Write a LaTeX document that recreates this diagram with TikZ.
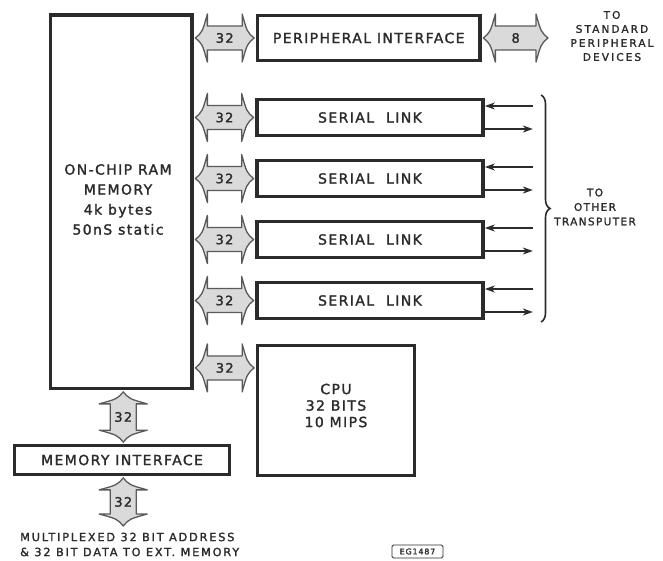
\documentclass[tikz,border=0pt]{standalone}
\usepackage{fontspec}
\setmainfont{DejaVu Sans}[LetterSpace=10, FakeBold=1.6]
\usetikzlibrary{calc,decorations.pathreplacing,arrows.meta}
\definecolor{ink}{HTML}{2B2B2B}
\definecolor{fatfill}{HTML}{DADADA}
\definecolor{fatline}{HTML}{5A5A5A}
\tikzset{
  box/.style={draw=ink, line width=3.7pt, rectangle, inner sep=0pt, text=ink,
    font=\fontsize{14}{16}\selectfont},
  fat/.style={draw=fatline, fill=fatfill, line width=1.3pt, line join=round},
  fatlabel/.style={text=ink, font=\fontsize{13}{15}\selectfont, inner sep=0pt},
  sig/.style={draw=ink, line width=2pt, -{Stealth[length=10pt,width=7pt]}},
  note/.style={text=ink, align=center, inner sep=0pt},
  bigtext/.style={text=ink, align=center, inner sep=0pt},
}
\newcommand\hfat[4]{%
  \path[fat] let \p1=#1, \p2=#2 in
    (\x1,\y1) .. controls (\x1+7pt,\y1+6pt) .. (\x1+12pt,\y1+24pt)
    -- (\x1+12pt,\y1+12pt) -- (\x2-12pt,\y2+12pt) -- (\x2-12pt,\y2+24pt)
    .. controls (\x2-7pt,\y2+6pt) .. (\x2,\y2)
    .. controls (\x2-7pt,\y2-6pt) .. (\x2-12pt,\y2-24pt)
    -- (\x2-12pt,\y2-12pt) -- (\x1+12pt,\y1-12pt) -- (\x1+12pt,\y1-24pt)
    .. controls (\x1+7pt,\y1-6pt) .. cycle;
  \node[fatlabel] (#4) at ($#1!0.5!#2$) {#3};
}
\newcommand\vfat[4]{%
  \path[fat] let \p1=#1, \p2=#2 in
    (\x1,\y1) .. controls (\x1+6pt,\y1-7pt) .. (\x1+24pt,\y1-12pt)
    -- (\x1+13pt,\y1-12pt) -- (\x2+13pt,\y2+12pt) -- (\x2+24pt,\y2+12pt)
    .. controls (\x2+6pt,\y2+7pt) .. (\x2,\y2)
    .. controls (\x2-6pt,\y2+7pt) .. (\x2-24pt,\y2+12pt)
    -- (\x2-13pt,\y2+12pt) -- (\x1-13pt,\y1-12pt) -- (\x1-24pt,\y1-12pt)
    .. controls (\x1-6pt,\y1-7pt) .. cycle;
  \node[fatlabel] (#4) at ($#1!0.5!#2$) {#3};
}
\begin{document}
\begin{tikzpicture}[x=1pt,y=-1pt]
\useasboundingbox[fill=white] (0,0) rectangle (663,560);
% boxes
\node[box, minimum width=141.5pt, minimum height=373.5pt] (ram) at (121.25,201.75) {};
\node[bigtext, font=\fontsize{14}{20}\selectfont] (ramtxt) at (118,199.5) {ON-CHIP RAM\\MEMORY\\4k bytes\\50nS static};
\node[box, minimum width=222.5pt, minimum height=45pt] (pi) at (368.75,38) {PERIPHERAL INTERFACE};
\node[box, minimum width=226pt, minimum height=36pt] (sl1) at (370,117.5) {SERIAL\hspace{12pt}LINK};
\node[box, minimum width=226pt, minimum height=36pt] (sl2) at (370,178.5) {SERIAL\hspace{12pt}LINK};
\node[box, minimum width=226pt, minimum height=36pt] (sl3) at (370,239.5) {SERIAL\hspace{12pt}LINK};
\node[box, minimum width=226pt, minimum height=36pt] (sl4) at (370,300.5) {SERIAL\hspace{12pt}LINK};
\node[box, minimum width=157pt, minimum height=130pt] (cpu) at (336,410.5) {};
\node[bigtext, font=\fontsize{14}{16.5}\selectfont] (cputxt) at ($(cpu.center)+(0,-5)$) {CPU\\32 BITS\\10 MIPS};
\node[box, minimum width=215pt, minimum height=29pt] (mi) at (122,460) {MEMORY INTERFACE};
% free ends
\coordinate (pdev) at (548,38);
\coordinate (cpuin) at ($(cpu.north west)+(-1.5,24.25)$);
\coordinate (ext) at (123.25,526);
% fat arrows
\hfat{($(ram.east|-pi.west)+(1.5,0)$)}{($(pi.west)+(-1.5,0)$)}{32}{b0}
\hfat{($(pi.east)+(1.5,0)$)}{(pdev)}{8}{b8}
\foreach \i in {1,2,3,4}{
  \hfat{($(ram.east|-sl\i.west)+(1.5,0)$)}{($(sl\i.west)+(-1.5,0)$)}{32}{bs\i}
}
\hfat{($(ram.east|-cpuin)+(1.5,0)$)}{(cpuin)}{32}{bc}
\vfat{($(ram.south)+(2,1.5)$)}{($(mi.north)+(1.25,-1.5)$)}{32}{bm}
\vfat{($(mi.south)+(1.25,1.5)$)}{(ext)}{32}{be}
% serial signals
\foreach \i in {1,2,3,4}{
  \coordinate (li\i) at ($(sl\i.east)+(48,-11.5)$);
  \coordinate (lo\i) at ($(sl\i.east)+(48,11.5)$);
  \draw[sig] (li\i) -- (li\i -| sl\i.east);
  \draw[sig] (lo\i -| sl\i.east) -- (lo\i);
}
% brace
\coordinate (bt) at (541,95);
\coordinate (bb) at (541,322);
\draw[ink, line width=1.6pt, decorate, decoration={brace, amplitude=9pt}] (bt) -- (bb);
% notes
\node[note, font=\fontsize{10.5}{14}\selectfont\addfontfeatures{LetterSpace=20}] (std) at (612,36) {TO\\STANDARD\\PERIPHERAL\\DEVICES};
\node[note, font=\fontsize{10.5}{14.5}\selectfont\addfontfeatures{LetterSpace=13}] (oth) at (595,207) {TO\\OTHER\\TRANSPUTER};
\node[note, font=\fontsize{11.3}{15}\selectfont\addfontfeatures{LetterSpace=16}, align=left, anchor=west] (mux) at (20,544.5) {MULTIPLEXED 32 BIT ADDRESS\\\& 32 BIT DATA TO EXT. MEMORY};
\node[draw=ink, line width=0.9pt, rounded corners=1.5pt, text=ink, font=\fontsize{8}{9}\selectfont, minimum width=51pt, minimum height=13pt, inner sep=0pt] (eg) at (417.5,551.5) {EG1487};
\end{tikzpicture}
\end{document}
